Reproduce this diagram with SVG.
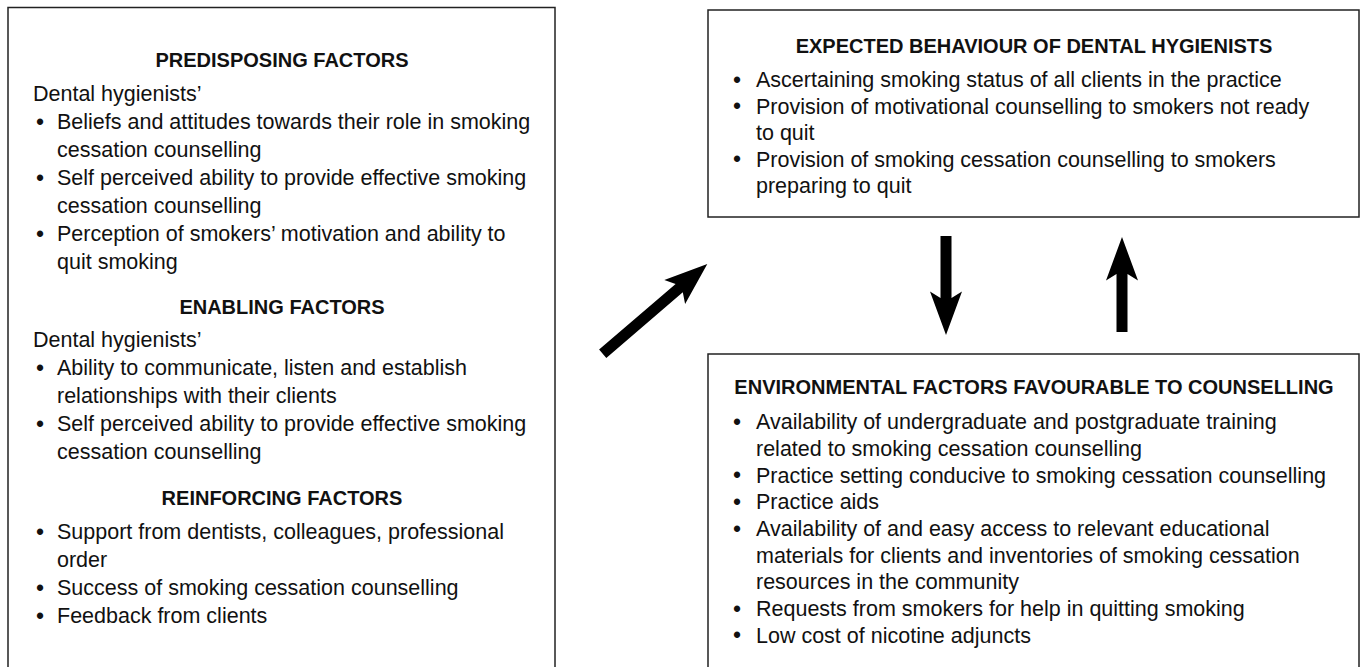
<svg xmlns="http://www.w3.org/2000/svg" width="1363" height="667" viewBox="0 0 1363 667">
<style>
.box{fill:#fff;stroke:#222;stroke-width:1.5}
.t{font-family:"Liberation Sans",Arial,sans-serif;font-size:21.5px;fill:#111}
.b{font-family:"Liberation Sans",Arial,sans-serif;font-size:23px;fill:#111}
.h{font-family:"Liberation Sans",Arial,sans-serif;font-size:20px;font-weight:bold;fill:#111;text-anchor:middle}
.arrow{fill:#000;stroke:none}
</style>
<rect width="1363" height="667" fill="#fff"/>
<g id="node-factors">
<rect class="box" x="8" y="7.5" width="547" height="680"/>
<text class="h" x="282" y="67">PREDISPOSING FACTORS</text>
<text class="t" x="33" y="101">Dental hygienists’</text>
<text class="b" x="36" y="129.5">•</text><text class="t" x="57" y="129">Beliefs and attitudes towards their role in smoking</text>
<text class="t" x="57" y="157">cessation counselling</text>
<text class="b" x="36" y="185.5">•</text><text class="t" x="57" y="185">Self perceived ability to provide effective smoking</text>
<text class="t" x="57" y="213">cessation counselling</text>
<text class="b" x="36" y="241.5">•</text><text class="t" x="57" y="241">Perception of smokers’ motivation and ability to</text>
<text class="t" x="57" y="269">quit smoking</text>
<text class="h" x="282" y="314">ENABLING FACTORS</text>
<text class="t" x="33" y="347">Dental hygienists’</text>
<text class="b" x="36" y="375.5">•</text><text class="t" x="57" y="375">Ability to communicate, listen and establish</text>
<text class="t" x="57" y="403">relationships with their clients</text>
<text class="b" x="36" y="431.5">•</text><text class="t" x="57" y="431">Self perceived ability to provide effective smoking</text>
<text class="t" x="57" y="459">cessation counselling</text>
<text class="h" x="282" y="505">REINFORCING FACTORS</text>
<text class="b" x="36" y="539.5">•</text><text class="t" x="57" y="539">Support from dentists, colleagues, professional</text>
<text class="t" x="57" y="567">order</text>
<text class="b" x="36" y="595.5">•</text><text class="t" x="57" y="595">Success of smoking cessation counselling</text>
<text class="b" x="36" y="623.5">•</text><text class="t" x="57" y="623">Feedback from clients</text>
</g>
<g id="node-behaviour">
<rect class="box" x="708" y="10" width="651" height="207"/>
<text class="h" x="1034" y="53">EXPECTED BEHAVIOUR OF DENTAL HYGIENISTS</text>
<text class="b" x="733" y="87.5">•</text><text class="t" x="756" y="87">Ascertaining smoking status of all clients in the practice</text>
<text class="b" x="733" y="114">•</text><text class="t" x="756" y="113.5">Provision of motivational counselling to smokers not ready</text>
<text class="t" x="756" y="140">to quit</text>
<text class="b" x="733" y="167">•</text><text class="t" x="756" y="166.5">Provision of smoking cessation counselling to smokers</text>
<text class="t" x="756" y="193">preparing to quit</text>
</g>
<g id="node-environment">
<rect class="box" x="708" y="354" width="651" height="330"/>
<text class="h" x="1034" y="394">ENVIRONMENTAL FACTORS FAVOURABLE TO COUNSELLING</text>
<text class="b" x="733" y="429.5">•</text><text class="t" x="756" y="429">Availability of undergraduate and postgraduate training</text>
<text class="t" x="756" y="456">related to smoking cessation counselling</text>
<text class="b" x="733" y="483">•</text><text class="t" x="756" y="482.5">Practice setting conducive to smoking cessation counselling</text>
<text class="b" x="733" y="509.5">•</text><text class="t" x="756" y="509">Practice aids</text>
<text class="b" x="733" y="536.5">•</text><text class="t" x="756" y="536">Availability of and easy access to relevant educational</text>
<text class="t" x="756" y="562.5">materials for clients and inventories of smoking cessation</text>
<text class="t" x="756" y="589">resources in the community</text>
<text class="b" x="733" y="616.5">•</text><text class="t" x="756" y="616">Requests from smokers for help in quitting smoking</text>
<text class="b" x="733" y="643">•</text><text class="t" x="756" y="642.5">Low cost of nicotine adjuncts</text>
</g>
<g id="connectors">
<polygon class="arrow" points="707.3,264 685.1,304.1 682.8,292.3 606.3,357.9 599.1,349.5 675.6,283.9 664.3,279.9"/>
<polygon class="arrow" points="940.5,236 951.5,236 951.5,298 962,291.5 946,335 930,291.5 940.5,298"/>
<polygon class="arrow" points="1122,237 1138,280.5 1127.5,274 1127.5,332 1116.5,332 1116.5,274 1106,280.5"/>
</g>
</svg>
